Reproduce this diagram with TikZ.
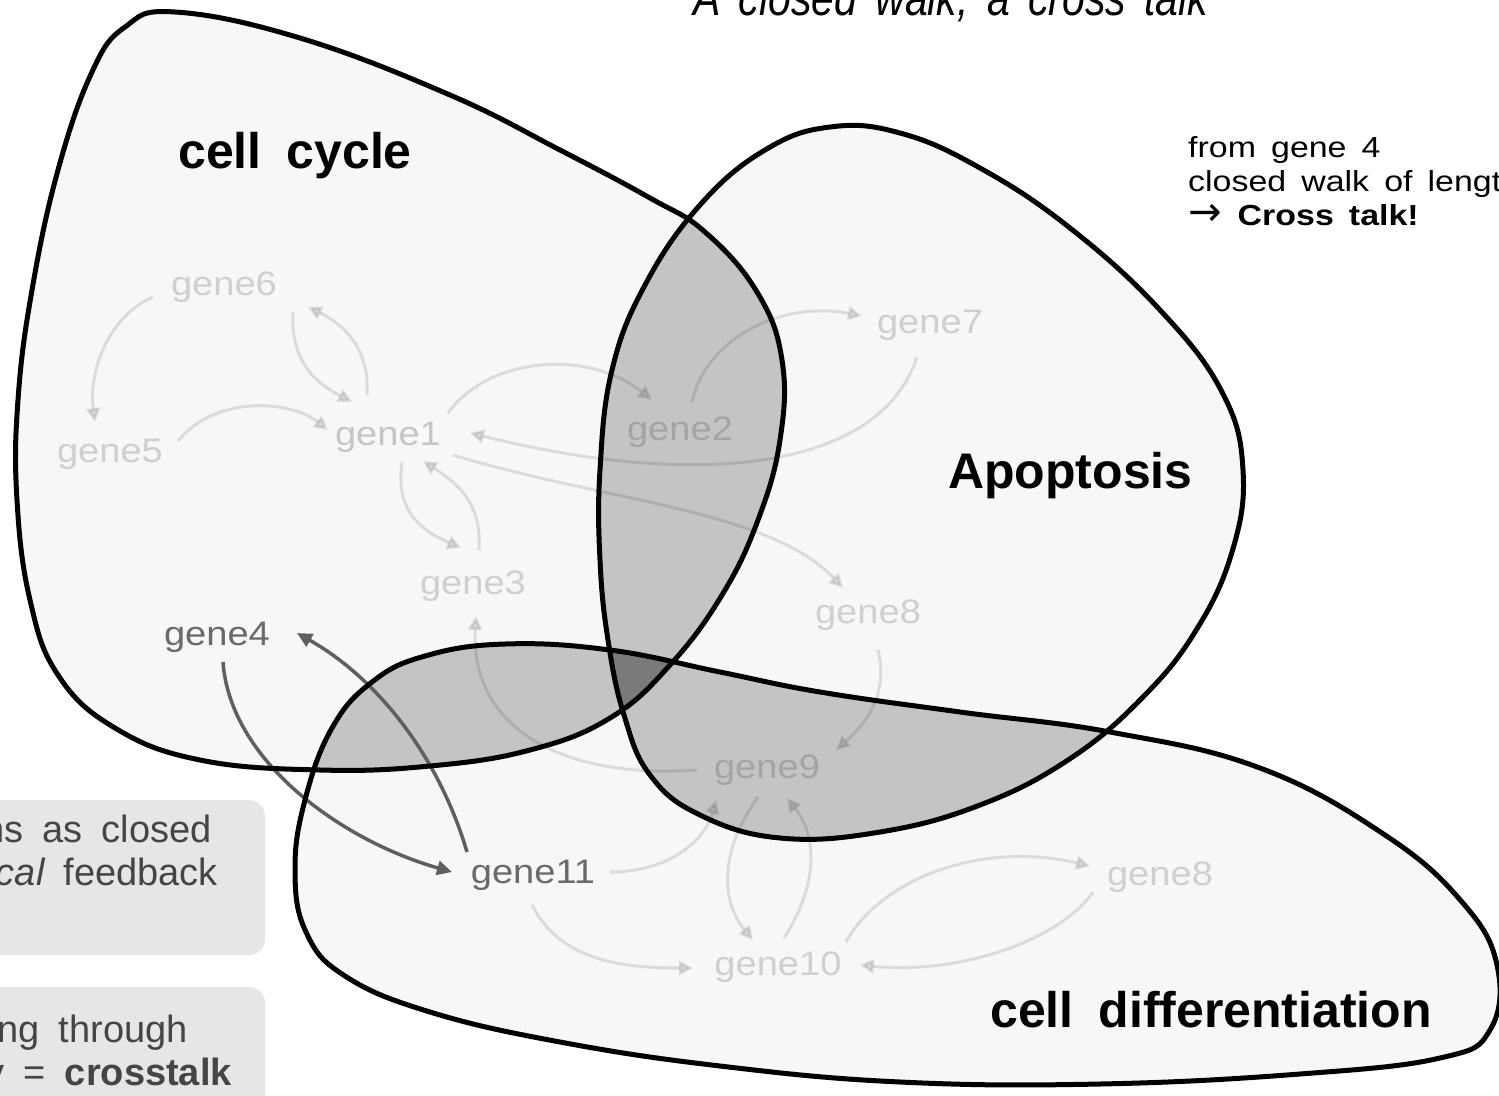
\documentclass[tikz,border=0pt]{standalone}
\usepackage{fontspec}
\setmainfont{Liberation Sans}[WordSpace=1.8]
\newfontfamily\genefont{Liberation Sans}[FakeStretch=1.12]
\newfontfamily\notefont{Liberation Sans}[FakeStretch=1.17,WordSpace=1.6]
\newfontfamily\titlefont{Liberation Sans}[FakeStretch=0.82,WordSpace=1.6]
\newfontfamily\arrowfont{DejaVu Sans}
\usetikzlibrary{arrows.meta}
\definecolor{cSingle}{HTML}{F7F7F7}
\definecolor{cDouble}{HTML}{C4C4C4}
\definecolor{cTriple}{HTML}{7A7A7A}
\definecolor{boxgray}{HTML}{E6E6E6}
\definecolor{boxtext}{HTML}{454545}
\definecolor{darkarrow}{HTML}{5F5F5F}
\definecolor{darklabel}{HTML}{6A6A6A}
\begin{document}
\begin{tikzpicture}[x=1pt,y=-1pt,
  gene/.style={font=\genefont\fontsize{34}{40}\selectfont,text=black,text opacity=0.16,inner sep=0pt,anchor=base},
  hotgene/.style={font=\genefont\fontsize{34}{40}\selectfont,text=darklabel,inner sep=0pt,anchor=base},
  faint/.style={draw=black,draw opacity=0.11,fill opacity=0.11,line width=3pt,-{Triangle[length=14pt,width=14pt]}},
  strong/.style={draw=darkarrow,line width=3.5pt,-{Triangle[length=15pt,width=14pt]},darkarrow},
  blob/.style={draw=black,line width=5pt},
  region/.style={font=\bfseries\fontsize{50}{58}\selectfont,inner sep=0pt,anchor=base west},
  notebox/.style={fill=boxgray,rounded corners=16pt},
  boxtxt/.style={font=\fontsize{38}{44}\selectfont,text=boxtext,inner sep=0pt,anchor=base east},
  notetxt/.style={font=\notefont\fontsize{29}{34}\selectfont,inner sep=0pt,anchor=base west}]
\useasboundingbox (0,0) rectangle (1499,1095);
\begin{scope}
\clip (0,0) rectangle (1499,1095);
\def\cc{plot[smooth cycle,tension=0.7] coordinates {(175,12) (300,38) (450,95) (560,150) (650,198) (705,232) (757,292) (782,360) (780,440) (758,520) (722,595) (670,665) (610,718) (530,750) (430,766) (320,770) (200,760) (115,728) (58,675) (30,600) (17,500) (18,400) (32,290) (58,170) (92,72) (125,27)}}
\def\ap{plot[smooth cycle,tension=0.7] coordinates {(600,470) (612,370) (645,285) (700,205) (765,150) (830,127) (900,133) (980,168) (1070,228) (1160,310) (1222,392) (1243,470) (1232,552) (1195,632) (1140,700) (1068,760) (980,805) (880,832) (780,838) (700,815) (650,775) (624,715) (608,640) (600,560)}}
\def\cd{plot[smooth cycle,tension=0.7] coordinates {(305,800) (332,728) (372,682) (425,656) (505,644) (610,650) (720,672) (820,692) (960,712) (1110,732) (1260,768) (1385,835) (1462,902) (1497,965) (1490,1030) (1440,1058) (1300,1074) (1100,1084) (900,1082) (720,1066) (560,1042) (430,1012) (345,976) (306,932) (295,870)}}
\fill[cSingle] \cc;
\fill[cSingle] \ap;
\fill[cSingle] \cd;
\begin{scope}\clip \cc; \fill[cDouble] \ap; \fill[cDouble] \cd; \end{scope}
\begin{scope}\clip \ap; \fill[cDouble] \cd; \end{scope}
\begin{scope}\clip \cc; \clip \ap; \fill[cTriple] \cd; \end{scope}

% note boxes
\fill[notebox] (-30,800) rectangle (265,955);
\fill[notebox] (-30,987) rectangle (265,1130);
\node[boxtxt] (n1) at (212,842) {ns as closed};
\node[boxtxt] (n2) at (218,885) {{\itshape cal} feedback};
\node[boxtxt] (n3) at (188,1042) {ng through};
\node[boxtxt] (n4) at (232,1085) {y = \textbf{crosstalk}};

% genes
\node[gene] (g6) at (224,295) {gene6};
\node[gene] (g5) at (110,462) {gene5};
\node[gene,text opacity=0.2] (g1) at (388,445) {gene1};
\node[gene] (g2) at (680,440) {gene2};
\node[gene] (g7) at (930,333) {gene7};
\node[gene] (g3) at (473,594) {gene3};
\node[gene] (g8u) at (868,623) {gene8};
\node[hotgene] (g4) at (217,645) {gene4};
\node[gene] (g9) at (767,778) {gene9};
\node[hotgene] (g11) at (533,883) {gene11};
\node[gene] (g8l) at (1160,885) {gene8};
\node[gene] (g10) at (778,975) {gene10};

% faint arrows
\draw[faint] ([shift={(-71,2)}]g6.base) .. controls (110,315) and (88,370) .. ([shift={(-15,-40)}]g5.base);
\draw[faint] ([shift={(69,17)}]g6.base) .. controls (290,365) and (320,385) .. ([shift={(-36,-43)}]g1.base);
\draw[faint] ([shift={(-21,-50)}]g1.base) .. controls (370,350) and (345,325) .. ([shift={(84,12)}]g6.base);
\draw[faint] ([shift={(68,-21)}]g5.base) .. controls (215,395) and (290,400) .. ([shift={(-60,-15)}]g1.base);
\draw[faint] ([shift={(60,-32)}]g1.base) .. controls (490,355) and (590,350) .. ([shift={(-28,-40)}]g2.base);
\draw[faint] ([shift={(12,-38)}]g2.base) .. controls (705,340) and (780,300) .. ([shift={(-68,-17)}]g7.base);
\draw[faint] ([shift={(-13,24)}]g7.base) .. controls (880,470) and (700,490) .. ([shift={(82,-12)}]g1.base);
\draw[faint] ([shift={(65,10)}]g1.base) .. controls (600,500) and (770,510) .. ([shift={(-25,-35)}]g8u.base);
\draw[faint] ([shift={(14,17)}]g1.base) .. controls (395,510) and (420,530) .. ([shift={(-12,-46)}]g3.base);
\draw[faint] ([shift={(6,-44)}]g3.base) .. controls (482,505) and (460,485) .. ([shift={(35,16)}]g1.base);
\draw[faint] ([shift={(-70,-8)}]g9.base) .. controls (550,780) and (470,720) .. ([shift={(3,22)}]g3.base);
\draw[faint] ([shift={(10,27)}]g8u.base) .. controls (888,690) and (870,720) .. ([shift={(69,-28)}]g9.base);
\draw[faint] ([shift={(77,-11)}]g11.base) .. controls (670,872) and (705,840) .. ([shift={(-51,22)}]g9.base);
\draw[faint] ([shift={(-9,19)}]g9.base) .. controls (720,850) and (720,900) .. ([shift={(-25,-35)}]g10.base);
\draw[faint] ([shift={(6,-37)}]g10.base) .. controls (815,890) and (820,840) .. ([shift={(20,20)}]g9.base);
\draw[faint] ([shift={(68,-33)}]g10.base) .. controls (880,880) and (980,840) .. ([shift={(-70,-19)}]g8l.base);
\draw[faint] ([shift={(-67,7)}]g8l.base) .. controls (1060,940) and (960,975) .. ([shift={(82,-10)}]g10.base);
\draw[faint] ([shift={(-1,22)}]g11.base) .. controls (560,960) and (620,968) .. ([shift={(-85,-7)}]g10.base);

% strong arrows
\draw[strong] ([shift={(6,17)}]g4.base) .. controls (230,760) and (340,840) .. ([shift={(-81,-11)}]g11.base);
\draw[strong] ([shift={(-66,-31)}]g11.base) .. controls (440,760) and (380,680) .. ([shift={(80,-12)}]g4.base);

% outlines
\draw[blob] \cc;
\draw[blob] \ap;
\draw[blob] \cd;

% region labels
\node[region] (lcc) at (178,168) {cell cycle};
\node[region] (lap) at (948,488) {Apoptosis};
\node[region] (lcd) at (990,1027) {cell differentiation};

% title and note
\node[font=\titlefont\itshape\fontsize{50}{56}\selectfont,inner sep=0pt,anchor=base west] (title) at (693,15) {A closed walk, a cross talk};
\node[notetxt] (t1) at (1188,157) {from gene 4};
\node[notetxt] (t2) at (1188,191) {closed walk of lengt};
\node[notetxt] (t3) at (1188,225) {{\arrowfont\fontsize{40}{34}\selectfont →}\hspace{16pt}\textbf{Cross talk!}};
\end{scope}
\end{tikzpicture}
\end{document}
